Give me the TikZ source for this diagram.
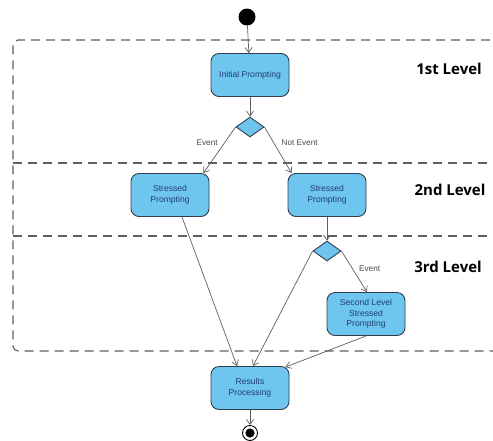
\documentclass[tikz,border=0pt]{standalone}
\usepackage{fontspec}
\setmainfont{Liberation Sans}
\newfontfamily\levelfont{Open Sans}
\usetikzlibrary{shapes.geometric,arrows.meta}
\definecolor{actfill}{RGB}{110,198,238}
\definecolor{actdraw}{RGB}{48,62,78}
\definecolor{acttext}{RGB}{32,62,112}
\definecolor{lanegray}{RGB}{95,95,95}
\tikzset{
ACTION/.style ={draw=actdraw,fill=actfill,rounded corners=8pt,line width=0.9pt,minimum width=78pt,minimum height=43pt,align=center,text=acttext,font=\fontsize{8.6}{10.5}\selectfont},
DECISION/.style={draw=actdraw,fill=actfill,diamond,minimum width=28pt,minimum height=20pt,inner sep=0pt,line width=0.9pt},
FLOW/.style ={draw=lanegray,line width=0.7pt,-{Straight Barb[length=5pt,width=7pt]}},
LANE/.style ={draw=lanegray,line width=1.1pt,dash pattern=on 9pt off 6pt},
LEVEL/.style ={font=\levelfont\bfseries\fontsize{15}{17}\selectfont},
GUARD/.style ={font=\fontsize{8.2}{10}\selectfont,text=black!70},
}
\begin{document}
\begin{tikzpicture}[x=1pt,y=-1pt]
	\fill[white] (0,0) rectangle (493,440);
	\clip (0,0) rectangle (493,440);
	% levels
	\path[LANE,rounded corners=5pt] (520,40) -- (13,40) -- (13,351) -- (520,351);
	\path[LANE] (13,163) -- (520,163);
	\path[LANE] (13,236) -- (520,236);
	\node[LEVEL] (lvlA) at (449,69) {1st Level};
	\node[LEVEL] (lvlB) at (450,190) {2nd Level};
	\node[LEVEL] (lvlC) at (448,267) {3rd Level};
	% activities
	\node[circle,fill=black,minimum size=17pt,inner sep=0pt] (start) at (247,17) {};
	\node[ACTION] (init) at (250,75) {Initial Prompting};
	\node[DECISION] (decA) at (250,127) {};
	\node[ACTION] (stressL) at (170,195) {Stressed\\Prompting};
	\node[ACTION] (stressR) at (327,195) {Stressed\\Prompting};
	\node[DECISION] (decB) at (327,251) {};
	\node[ACTION] (second) at (366,314) {Second Level\\Stressed\\Prompting};
	\node[ACTION] (results) at (250,388) {Results\\Processing};
	\node[circle,draw=black,line width=0.9pt,minimum size=15pt,inner sep=0pt,
		path picture={\fill (path picture bounding box.center) circle (4.6pt);}] (final) at (250,433) {};
	% flows
	\path[FLOW] (start) -- (init);
	\path[FLOW] (init) -- (decA);
	\path[FLOW] (decA.west) -- node[GUARD,pos=0.35,left=3pt] {Event} ([xshift=-6pt]stressL.north east);
	\path[FLOW] (decA.east) -- node[GUARD,pos=0.35,right=4pt] {Not Event} ([xshift=4pt]stressR.north west);
	\path[FLOW] (stressR) -- (decB);
	\path[FLOW] (decB.east) -- node[GUARD,pos=0.43,right=3pt] {Event} ([xshift=1pt]second.north);
	\path[FLOW] ([xshift=12pt]stressL.south) -- ([xshift=-13pt]results.north);
	\path[FLOW] (decB.west) -- ([xshift=3pt]results.north);
	\path[FLOW] (second.south) -- ([xshift=-4pt,yshift=-1pt]results.north east);
	\path[FLOW] (results) -- (final);
\end{tikzpicture}
\end{document}
